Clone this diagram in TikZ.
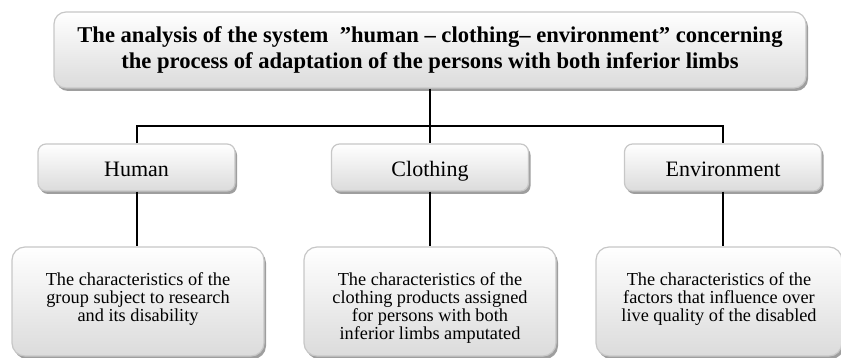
\documentclass[tikz,border=0pt]{standalone}
\usepackage{fontspec}
\setmainfont{Liberation Serif}
\usetikzlibrary{shadows}
\begin{document}
\begin{tikzpicture}[x=1pt,y=-1pt,
  box/.style={draw=black!22, line width=1.2pt, top color=white, bottom color=black!14,
    drop shadow={shadow xshift=2pt, shadow yshift=-3pt, fill=black!38, opacity=1},
    inner sep=0pt},
  midbox/.style={box, rounded corners=8pt, minimum width=197pt, minimum height=47pt,
    text height=20pt, text depth=1.6pt, font=\fontsize{22}{26}\selectfont},
  lowbox/.style={box, rounded corners=13pt, minimum width=252pt, minimum height=109pt,
    font=\fontsize{18.3}{18.3}\selectfont},
  conn/.style={line width=2pt, black}]
\useasboundingbox (0,0) rectangle (841,358);
\clip (0,0) rectangle (841,358);
\node[box, rounded corners=12pt, minimum width=752pt, minimum height=76pt] (top) at (430,50)
  {\raisebox{-3pt}{\parbox{740pt}{\centering\fontsize{22.6}{25.5}\selectfont\bfseries
   The analysis of the system\ \ ”human – clothing– environment” concerning\\
   the process of adaptation of the persons with both inferior limbs}}};
\node[midbox] (h) at (136.5,167.5) {Human};
\node[midbox] (c) at (430,167.5) {Clothing};
\node[midbox] (e) at (723,167.5) {Environment};
\node[lowbox] (b1) at (138,301.5) {\parbox[c][109pt][t]{240pt}{\centering\rule{0pt}{38pt}The characteristics of the\\ group subject to research\\ and its disability}};
\node[lowbox] (b2) at (430,301.5) {\parbox[c][109pt][t]{240pt}{\centering\rule{0pt}{38pt}The characteristics of the\\ clothing products assigned\\ for persons with both\\ inferior limbs amputated}};
\node[lowbox, minimum width=246pt] (b3) at (719,301.5) {\parbox[c][109pt][t]{234pt}{\centering\rule{0pt}{38pt}The characteristics of the\\ factors that influence over\\ live quality of the disabled}};
\coordinate (bar) at (0,126);
\draw[conn] (top.south) -- (c.north);
\draw[conn] (h.north) -- (h.north |- bar) -- (e.north |- bar) -- (e.north);
\draw[conn] (h.south) -- (h.south |- b1.north);
\draw[conn] (c.south) -- (b2.north);
\draw[conn] (e.south) -- (e.south |- b3.north);
\end{tikzpicture}
\end{document}
